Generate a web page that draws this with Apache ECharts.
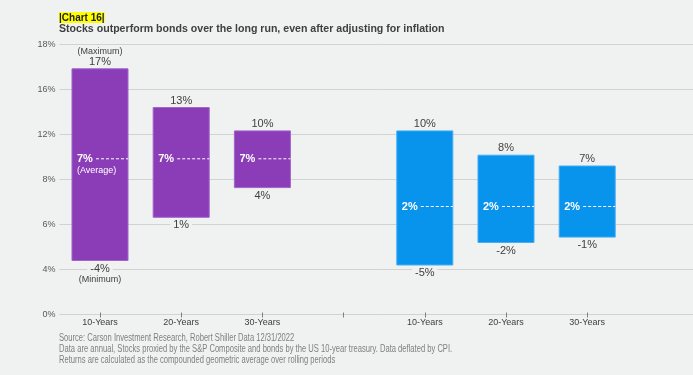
<!DOCTYPE html>
<html>
<head>
<meta charset="utf-8">
<script src="https://cdn.jsdelivr.net/npm/echarts@6/dist/echarts.min.js"></script>
<style>
  html, body { margin: 0; padding: 0; background: #F0F1F1; }
  #chart { width: 693px; height: 375px; }
</style>
</head>
<body>
<div id="chart"></div>
<script>
// categories (4th is an empty spacer between the two groups)
const categories = ['10-Years', '20-Years', '30-Years', '', '10-Years', '20-Years', '30-Years'];
const groups = ['stocks', 'stocks', 'stocks', null, 'bonds', 'bonds', 'bonds'];
const maxValues = [17.3, 13.0, 10.4, null, 10.4, 7.7, 6.5];
const minValues = [-4.0, 0.8, 4.1, null, -4.5, -2.0, -1.4];
const avgValues = [7.3, 7.3, 7.3, null, 2.0, 2.0, 2.0];
const maxNotes = ['(Maximum)', '', '', '', '', '', ''];
const minNotes = ['(Minimum)', '', '', '', '', '', ''];
const avgNotes = ['(Average)', '', '', '', '', '', ''];
// the original axis labels (as printed)
const yTickLabels = ['0%', '4%', '6%', '8%', '12%', '16%', '18%'];

const BG = '#F0F1F1';
const FONT = '"Liberation Sans", Arial, sans-serif';
const colors = { stocks: '#8B3DB8', bonds: '#0893EC' };
const edges = { stocks: '#A064CC', bonds: '#45AEF3' };

function fmt(v) {
  return (v < 0 ? '-' : '') + Math.round(Math.abs(v)) + '%';
}

const seriesData = [];
categories.forEach((c, i) => {
  if (maxValues[i] !== null) {
    seriesData.push([i, minValues[i], maxValues[i], avgValues[i]]);
  }
});

function renderItem(params, api) {
  const i = api.value(0);
  const lo = api.value(1), hi = api.value(2), avg = api.value(3);
  const top = api.coord([i, hi]);
  const bot = api.coord([i, lo]);
  const mid = api.coord([i, avg]);
  const w = api.size([1, 0])[0] * 0.69;
  const x0 = top[0] - w / 2;
  const g = groups[i];
  const kids = [
    { type: 'rect', shape: { x: x0, y: top[1], width: w, height: bot[1] - top[1] },
      style: { fill: colors[g], stroke: edges[g], lineWidth: 1 } },
    { type: 'line', shape: { x1: x0 + 24, y1: mid[1], x2: x0 + w, y2: mid[1] },
      style: { stroke: '#fff', lineDash: [3, 2], lineWidth: 1 } },
    { type: 'text', style: { x: x0 + 5, y: mid[1], text: fmt(avg), fill: '#fff',
      font: 'bold 11px ' + FONT, verticalAlign: 'middle' } },
    { type: 'text', style: { x: top[0], y: top[1] - 7, text: fmt(hi), fill: '#404040',
      font: '11px ' + FONT, align: 'center', verticalAlign: 'middle' } },
    { type: 'text', style: { x: top[0], y: bot[1] + 8, text: fmt(lo), fill: '#404040',
      font: '11px ' + FONT, align: 'center', verticalAlign: 'middle',
      backgroundColor: BG, padding: [0, 3] } }
  ];
  if (avgNotes[i]) {
    kids.push({ type: 'text', style: { x: x0 + 5, y: mid[1] + 12, text: avgNotes[i], fill: '#fff',
      font: '9px ' + FONT, verticalAlign: 'middle' } });
  }
  if (maxNotes[i]) {
    kids.push({ type: 'text', style: { x: top[0], y: top[1] - 17, text: maxNotes[i], fill: '#404040',
      font: '9px ' + FONT, align: 'center', verticalAlign: 'middle' } });
  }
  if (minNotes[i]) {
    kids.push({ type: 'text', style: { x: top[0], y: bot[1] + 19, text: minNotes[i], fill: '#404040',
      font: '9px ' + FONT, align: 'center', verticalAlign: 'middle' } });
  }
  return { type: 'group', children: kids };
}

const chart = echarts.init(document.getElementById('chart'));
chart.setOption({
  backgroundColor: BG,
  animation: false,
  textStyle: { fontFamily: FONT },
  grid: [
    // bars
    { left: 59.4, right: 65.2, top: 44.5, bottom: 60.5 },
    // full-width gridlines
    { left: 59.4, right: 0, top: 44.5, bottom: 60.5 }
  ],
  graphic: [
    { type: 'text', left: 59, top: 12, style: { text: '|Chart 16|', font: 'bold 10px ' + FONT,
      fill: '#222', backgroundColor: '#FFFF00', padding: [1, 0, 0, 0] } },
    { type: 'text', left: 59, top: 24, style: {
      text: 'Stocks outperform bonds over the long run, even after adjusting for inflation',
      font: 'bold 10.6px ' + FONT, fill: '#404040' } },
    { type: 'text', x: 59, y: 332.5, scaleX: 0.76, style: {
      text: 'Source: Carson Investment Research, Robert Shiller Data 12/31/2022\n' +
        'Data are annual, Stocks proxied by the S&P Composite and bonds by the US 10-year treasury. Data deflated by CPI.\n' +
        'Returns are calculated as the compounded geometric average over rolling periods',
      font: '10px ' + FONT, lineHeight: 11, fill: '#7F7F7F' } }
  ],
  xAxis: [{
    type: 'category',
    gridIndex: 0,
    data: categories,
    offset: -2,
    axisLine: { show: false, onZero: false },
    axisTick: { show: true, alignWithLabel: true, length: 5, lineStyle: { color: '#7F7F7F' } },
    axisLabel: { color: '#404040', fontSize: 9, margin: 6, interval: 0 }
  }, {
    type: 'value',
    gridIndex: 1,
    show: false
  }],
  yAxis: [{
    type: 'value',
    gridIndex: 0,
    min: -10,
    max: 20,
    interval: 5,
    show: false
  }, {
    type: 'value',
    gridIndex: 1,
    min: -10,
    max: 20,
    interval: 5,
    axisLine: { show: false },
    axisTick: { show: false },
    axisLabel: { color: '#595959', fontSize: 9, margin: 4,
      formatter: (v) => yTickLabels[Math.round((v + 10) / 5)] },
    splitLine: { lineStyle: { color: '#D2D2D2', width: 1 } }
  }],
  series: [{
    type: 'custom',
    xAxisIndex: 0,
    yAxisIndex: 0,
    renderItem: renderItem,
    encode: { x: 0, y: [1, 2, 3] },
    data: seriesData,
    z: 3
  }]
});
</script>
</body>
</html>
